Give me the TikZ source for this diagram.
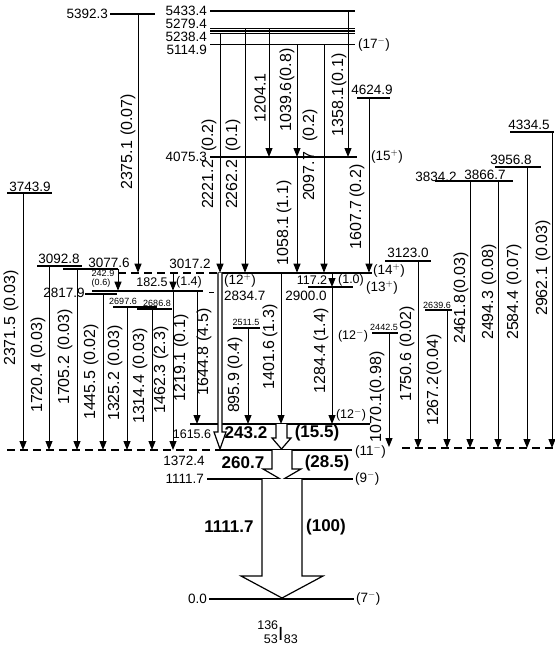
\documentclass[tikz,border=0pt]{standalone}
\usepackage{fontspec}
\setmainfont{Liberation Sans}
\usetikzlibrary{arrows.meta}
\newcommand\tlabfont{\fontsize{16}{16}\selectfont}
\newcommand\llabfont{\fontsize{13.5}{13.5}\selectfont}
\newcommand\slabfont{\fontsize{12.5}{12.5}\selectfont}
\newcommand\tinyfont{\fontsize{9}{9}\selectfont}
\newcommand\boldfont{\fontsize{17}{17}\selectfont\bfseries}
\newcommand\nucfont{\fontsize{12.5}{12.5}\selectfont}
\newcommand\lvline[4]{\coordinate (#1l) at (#2,#4); \coordinate (#1r) at (#3,#4); \draw[lvl] (#1l) -- (#1r);}
\newcommand\gtran[4]{\coordinate (#1a) at (#2,#3); \coordinate (#1b) at (#2,#4); \draw[tr] (#1a) -- (#1b);}
\begin{document}
\begin{tikzpicture}[x=1pt,y=-1pt,
  lvl/.style={line width=1.7pt},
  lvld/.style={line width=1.7pt,dash pattern=on 8pt off 5pt},
  tr/.style={line width=1pt,-{Triangle[width=7pt,length=9pt]}},
  rl/.style={rotate=90,font=\tlabfont,inner sep=0pt},
  ll/.style={font=\llabfont,inner sep=0pt},
  sl/.style={font=\slabfont,inner sep=0pt},
  tl/.style={font=\tinyfont,inner sep=0pt},
  bl/.style={font=\boldfont,inner sep=0pt},
  open/.style={line width=1.2pt,fill=white,line join=miter}]
\useasboundingbox (0,0) rectangle (554,650);
% ---------- levels ----------
\lvline{L5433}{210}{355}{11}
\lvline{L5392}{110}{155}{14}
\lvline{L5279}{210}{355}{28.5}
\lvline{Lx}{210}{355}{31}
\lvline{L5238}{210}{355}{33.5}
\lvline{L5114}{210}{355}{44.5}
\lvline{L4624}{357}{390}{98}
\lvline{L4075}{210}{357}{157}
\lvline{L4334}{510}{554}{132}
\lvline{L3956}{495}{541}{167}
\lvline{L3866}{450}{513}{181}
\coordinate (L3834l) at (435,181); \coordinate (L3834r) at (480,181);
\draw[line width=2.6pt] (L3834l) -- (L3834r);
\lvline{L3743}{7}{52}{193}
\lvline{L3123}{385}{431}{261}
\lvline{L3092}{37}{82}{266}
\lvline{L3077}{63}{118}{269}
\coordinate (L3017a) at (118,272.7); \coordinate (L3017b) at (218,272.7); \coordinate (L3017c) at (372,272.7);
\draw[lvld] (L3017a) -- (L3017b);
\draw[lvl] (L3017b) -- (L3017c);
\lvline{L2834}{92}{203}{290.7}
\coordinate (L2834d1) at (209,292); \coordinate (L2834d2) at (214,292);
\draw[line width=1pt] (L2834d1) -- (L2834d2);
\lvline{L2817}{85}{117}{294}
\lvline{L2900}{308}{353}{287}
\lvline{L2697}{113}{157}{307}
\lvline{L2686}{137}{172}{309}
\lvline{L2639}{425}{452}{310}
\lvline{L2511}{233}{260}{328}
\lvline{L2442}{372}{398}{333}
\lvline{L1615}{190}{370}{424}
\coordinate (L1372a) at (7,450); \coordinate (L1372b) at (217,450); \coordinate (L1372c) at (352,450);
\coordinate (L1372d) at (402,448); \coordinate (L1372e) at (554,448);
\draw[lvld] (L1372a) -- (L1372b);
\draw[lvl] (L1372b) -- (L1372c);
\draw[lvld] (L1372d) -- (L1372e);
\lvline{L1111}{207}{353}{479}
\lvline{L0}{209}{354}{599}
% ---------- transitions ----------
\gtran{t1358}{348}{11}{157}
\gtran{t1204}{269}{28.5}{157}
\gtran{t1039}{297}{44.5}{157}
\gtran{t2221}{220}{33.5}{272.7}
\gtran{t2262}{245}{28.5}{272.7}
\gtran{t2097}{324}{44.5}{272.7}
\gtran{t1058}{297}{157}{272.7}
\gtran{t1607}{369}{98}{272.7}
\gtran{t2375}{138}{14}{272.7}
\gtran{t2371}{23}{193}{450}
\gtran{t1720}{49}{266}{450}
\gtran{t1705}{77}{269}{450}
\gtran{t1445}{103}{294}{450}
\gtran{t1325}{127}{307}{450}
\gtran{t1314}{152}{309}{450}
\gtran{t1462}{173}{290.7}{450}
\gtran{t182}{173}{272.7}{290.7}
\gtran{t242}{118}{269}{290.7}
\gtran{t1219}{197}{290.7}{424}
\gtran{t895}{248}{328}{424}
\gtran{t1401}{281}{272.7}{424}
\gtran{t117}{332}{272.7}{287}
\gtran{t1284}{332}{287}{424}
\gtran{t1070}{389}{333}{447}
\gtran{t1750}{418}{261}{448}
\gtran{t1267}{447}{310}{448}
\gtran{t2461}{470}{181}{448}
\gtran{t2494}{498}{181}{448}
\gtran{t2584}{527}{167}{448}
\gtran{t2962}{552}{132}{448}
% open (intensity) arrows
\draw[open] (218,272.7) -- (218,432) -- (214,432) -- (220,449) -- (226,432) -- (222,432) -- (222,272.7);
\draw[open] (276,424) -- (276,438) -- (272,438) -- (281.5,449) -- (291,438) -- (287,438) -- (287,424);
\draw[open] (272,450) -- (272,469) -- (263,469) -- (282,480) -- (301,469) -- (292,469) -- (292,450);
\draw[open] (262,479) -- (262,576) -- (241,576) -- (282,598) -- (323,576) -- (302,576) -- (302,479);
% ---------- level labels ----------
\node[ll,anchor=east] (n5433) at (207,11) {5433.4};
\node[ll,anchor=east] (n5392) at (108,14) {5392.3};
\node[ll,anchor=east] (n5279) at (207,24) {5279.4};
\node[ll,anchor=east] (n5238) at (207,37) {5238.4};
\node[ll,anchor=east] (n5114) at (207,50) {5114.9};
\node[ll,anchor=west] (s17) at (358,45) {(17$^{-}$)};
\node[ll] (n4624) at (372,90) {4624.9};
\node[ll,anchor=east] (n4075) at (207,157) {4075.3};
\node[ll,anchor=west] (s15) at (371,157) {(15$^{+}$)};
\node[ll] (n4334) at (529,125) {4334.5};
\node[ll] (n3956) at (511,160) {3956.8};
\node[ll] (n3834) at (436,177) {3834.2};
\node[ll] (n3866) at (485,175) {3866.7};
\node[ll] (n3743) at (30,187) {3743.9};
\node[ll] (n3123) at (408,253) {3123.0};
\node[ll] (n3092) at (59,259) {3092.8};
\node[ll] (n3077) at (109,263) {3077.6};
\node[ll] (n3017) at (190,264) {3017.2};
\node[ll,anchor=west] (s14) at (373,271) {(14$^{+}$)};
\node[ll,anchor=west] (s12a) at (224,281) {(12$^{+}$)};
\node[ll,anchor=west] (n2834) at (224,296) {2834.7};
\node[sl] (l117) at (312,280) {117.2};
\node[sl] (i117) at (351,280) {(1.0)};
\node[ll] (n2900) at (306,296) {2900.0};
\node[ll,anchor=west] (s13) at (366,288) {(13$^{+}$)};
\node[sl] (l182) at (152,282) {182.5};
\node[sl] (i182) at (189,282) {(1.4)};
\node[tl] (l242) at (103,273) {242.9};
\node[tl] (i242) at (101,283) {(0.6)};
\node[ll] (n2817) at (64,293) {2817.9};
\node[tl] (n2697) at (123,301) {2697.6};
\node[tl] (n2686) at (157,303) {2686.8};
\node[tl] (n2639) at (437,305) {2639.6};
\node[tl] (n2511) at (246,322) {2511.5};
\node[tl] (n2442) at (384,327) {2442.5};
\node[sl] (s12b) at (353,336) {(12$^{-}$)};
\node[sl] (s12c) at (351,415) {(12$^{-}$)};
\node[sl] (n1615) at (192,434) {1615.6};
\node[ll] (n1372) at (184,461) {1372.4};
\node[ll,anchor=west] (s11) at (355,452) {(11$^{-}$)};
\node[ll,anchor=east] (n1111) at (204,479) {1111.7};
\node[ll,anchor=west] (s9) at (355,479) {(9$^{-}$)};
\node[ll,anchor=east] (n0) at (207,599) {0.0};
\node[ll,anchor=west] (s7) at (356,599) {(7$^{-}$)};
% ---------- bold labels ----------
\node[bl] (e243) at (246,433) {243.2};
\node[bl] (i243) at (317,433) {(15.5)};
\node[bl] (e260) at (243,463) {260.7};
\node[bl] (i260) at (327,463) {(28.5)};
\node[bl] (e1111) at (229,527) {1111.7};
\node[bl] (i1111) at (326,527) {(100)};
% ---------- rotated transition labels ----------
\node[rl] (r2375) at (128,142) {2375.1\hspace{5pt}(0.07)};
\node[rl] (r2221) at (209,164) {2221.2\hspace{8pt}(0.2)};
\node[rl] (r2262) at (233,164) {2262.2\hspace{8pt}(0.1)};
\node[rl] (r1204) at (260,98) {1204.1};
\node[rl] (r1039) at (287,90) {1039.6\hspace{1pt}(0.8)};
\node[rl] (r2097) at (310,155) {2097.7\hspace{10pt}(0.2)};
\node[rl] (r1358) at (339,95) {1358.1\hspace{1pt}(0.1)};
\node[rl] (r1058) at (284,223) {1058.1\hspace{3pt}(1.1)};
\node[rl] (r1607) at (357,207) {1607.7\hspace{3pt}(0.2)};
\node[rl] (r2371) at (11,318) {2371.5\hspace{5pt}(0.03)};
\node[rl] (r1720) at (38,365) {1720.4\hspace{5pt}(0.03)};
\node[rl] (r1705) at (65,357) {1705.2\hspace{5pt}(0.03)};
\node[rl] (r1445) at (91,372) {1445.5\hspace{5pt}(0.02)};
\node[rl] (r1325) at (115,373) {1325.2\hspace{5pt}(0.03)};
\node[rl] (r1314) at (140,376) {1314.4\hspace{5pt}(0.03)};
\node[rl] (r1462) at (161,370) {1462.3\hspace{5pt}(2.3)};
\node[rl] (r1219) at (181,358) {1219.1\hspace{5pt}(0.1)};
\node[rl] (r1644) at (204,352) {1644.8\hspace{5pt}(4.5)};
\node[rl] (r895) at (235,375) {895.9\hspace{3pt}(0.4)};
\node[rl] (r1401) at (270,347) {1401.6\hspace{3pt}(1.3)};
\node[rl] (r1284) at (321,351) {1284.4\hspace{3pt}(1.4)};
\node[rl] (r1070) at (377,397) {1070.1(0.98)};
\node[rl] (r1750) at (407,354) {1750.6\hspace{5pt}(0.02)};
\node[rl] (r1267) at (434,380) {1267.2\hspace{1pt}(0.04)};
\node[rl] (r2461) at (461,298) {2461.8\hspace{1pt}(0.03)};
\node[rl] (r2494) at (489,292) {2494.3\hspace{5pt}(0.08)};
\node[rl] (r2584) at (514,292) {2584.4\hspace{5pt}(0.07)};
\node[rl] (r2962) at (543,268) {2962.1\hspace{5pt}(0.03)};
% ---------- nucleus ----------
\node[inner sep=0pt,anchor=base west,font=\fontsize{19}{19}\selectfont] (nuc) at (278,640)
  {\llap{\raisebox{10.5pt}{\nucfont 136}}\llap{\raisebox{-3.5pt}{\nucfont 53\hspace{0.5pt}}}I\raisebox{-3.5pt}{\nucfont\hspace{0.5pt}83}};
\end{tikzpicture}
\end{document}
